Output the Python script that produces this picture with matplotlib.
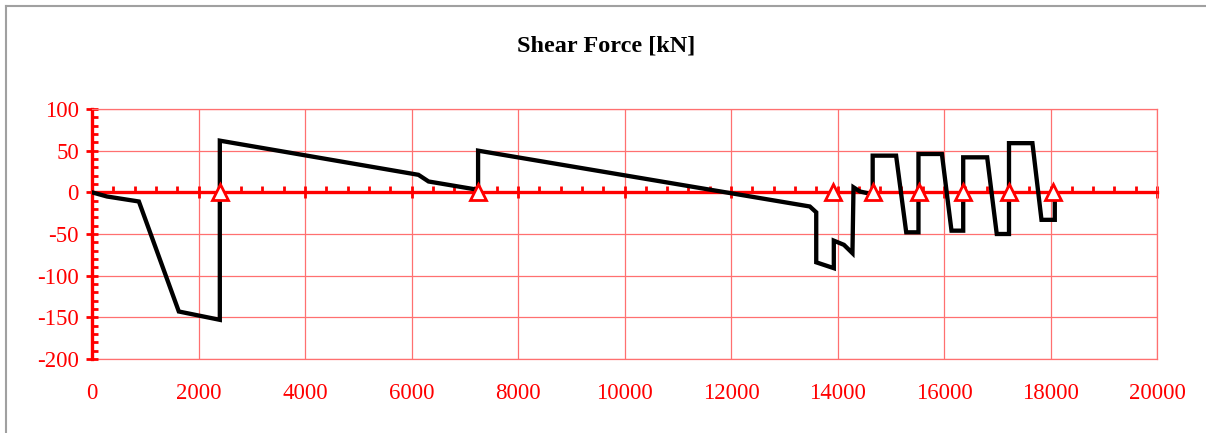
import numpy as np
import matplotlib
matplotlib.use('Agg')
import matplotlib.pyplot as plt
from matplotlib.lines import Line2D
from matplotlib.ticker import MultipleLocator

plt.rcParams['font.family'] = ['Liberation Serif', 'DejaVu Serif']
plt.rcParams['axes.unicode_minus'] = False

# Shear force diagram (position along beam, kN)
x_pos = [0, 280, 880, 1630, 2400, 2400, 6130, 6320, 7250, 7250,
         13480, 13600, 13600, 13930, 13930, 14120, 14280, 14300, 14420, 14560,
         14660, 14660, 15100, 15290, 15520, 15520, 15960, 16140, 16360, 16360,
         16810, 16990, 17220, 17220, 17660, 17830, 18080, 18080]
shear = [0, -5, -11, -143, -153, 62, 21, 13, 3, 50,
         -17, -24, -84, -91, -58, -63, -73, 6, 1, -1,
         -2, 44, 44, -48, -48, 46, 46, -46, -46, 42,
         42, -50, -50, 59, 59, -33, -33, 0]

# support locations (triangles on the zero line)
supports = [2400, 7250, 13910, 14670, 15530, 16360, 17220, 18050]

x_ticks = [0, 2000, 4000, 6000, 8000, 10000, 12000, 14000, 16000, 18000, 20000]
y_ticks = [-200, -150, -100, -50, 0, 50, 100]

red = '#ff0000'
light = '#ff7070'

fig = plt.figure(figsize=(12.06, 4.33), dpi=100)
ax = fig.add_axes([0.0763, 0.1709, 0.8831, 0.5774])

ax.plot(x_pos, shear, color='black', lw=3.1, solid_joinstyle='miter', zorder=4)
ax.plot(supports, np.zeros(len(supports)), linestyle='none', marker='^',
        markersize=12, markerfacecolor='white', markeredgecolor=red,
        markeredgewidth=2, zorder=5, clip_on=False)

ax.set_xlim(0, 20000)
ax.set_ylim(-200, 100)
ax.set_xticks(x_ticks)
ax.set_yticks(y_ticks)
ax.xaxis.set_minor_locator(MultipleLocator(400))
ax.yaxis.set_minor_locator(MultipleLocator(10))

ax.grid(True, which='major', color=light, lw=0.9, zorder=0)
ax.set_axisbelow(True)

# zero line carries the x ticks
ax.spines['bottom'].set_position(('data', 0))
ax.spines['bottom'].set_color(red)
ax.spines['bottom'].set_linewidth(2.4)
ax.spines['bottom'].set_zorder(3)
ax.spines['left'].set_color(red)
ax.spines['left'].set_linewidth(2.4)
ax.spines['top'].set_color(light)
ax.spines['right'].set_color(light)
ax.spines['top'].set_linewidth(0.9)
ax.spines['right'].set_linewidth(0.9)

ax.tick_params(axis='x', which='major', direction='inout', length=9, width=2,
               color=red, labelbottom=False)
ax.tick_params(axis='x', which='minor', direction='in', length=4.5, width=2,
               color=red)
ax.tick_params(axis='y', which='major', direction='inout', length=9, width=2,
               color=red, labelcolor=red, labelsize=16.5, pad=5)
ax.tick_params(axis='y', which='minor', direction='in', length=4.5, width=2,
               color=red)

# x tick labels sit below the plot area
sec = ax.secondary_xaxis('bottom')
sec.set_xticks(x_ticks)
sec.tick_params(length=0, labelcolor=red, labelsize=16.5, pad=17)
sec.spines['bottom'].set_color(light)
sec.spines['bottom'].set_linewidth(0.9)

fig.text(0.503, 0.894, 'Shear Force [kN]', ha='center', va='center',
         fontsize=17.5, fontweight='bold')

# thin grey frame (top and left edge of the chart box)
fig.add_artist(Line2D([0.005, 0.005], [0, 0.986], transform=fig.transFigure,
                      color='#a0a0a0', lw=1.5))
fig.add_artist(Line2D([0.005, 1.0], [0.986, 0.986], transform=fig.transFigure,
                      color='#a0a0a0', lw=1.5))

fig.savefig('out.png', dpi=100)
